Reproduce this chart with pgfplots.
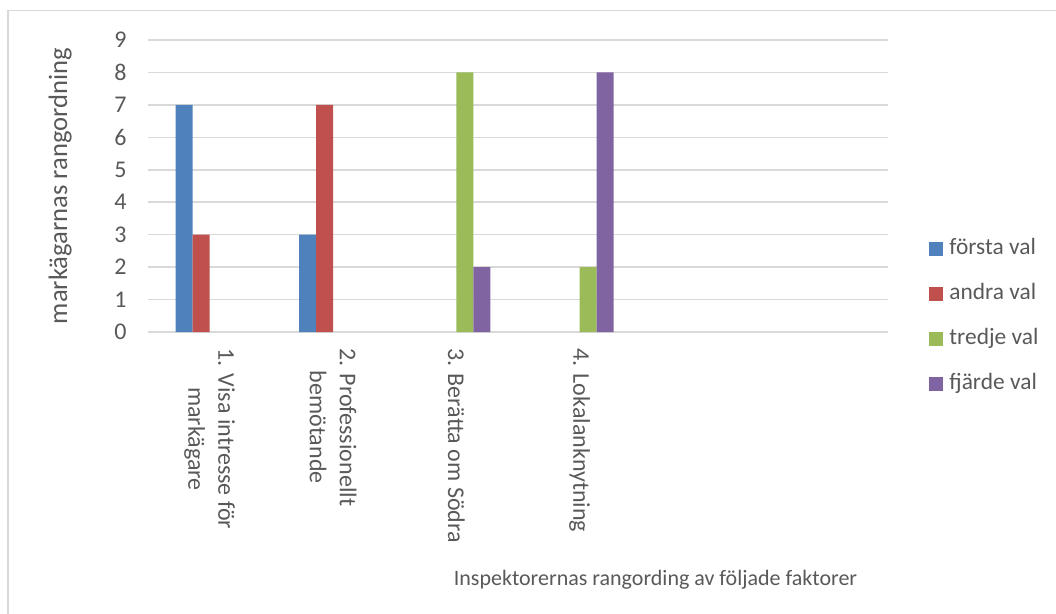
\documentclass[border=0pt]{standalone}
\usepackage{pgfplots}
\pgfplotsset{compat=1.18}
\usepackage{fontspec}
\setmainfont{Carlito}

\definecolor{txt}{HTML}{595959}
\definecolor{gridc}{HTML}{D9D9D9}
\definecolor{c1}{HTML}{4F81BD}
\definecolor{c2}{HTML}{C0504D}
\definecolor{c3}{HTML}{9BBB59}
\definecolor{c4}{HTML}{8064A2}

\begin{document}
\begin{tikzpicture}
% outer chart frame (only top and left edges fall on the page)
\draw[gridc, line width=0.75bp] (4bp,-320bp) -- (4bp,-5.25bp) -- (540bp,-5.25bp);

\begin{axis}[
  at={(74bp,-166bp)}, anchor=south west,
  scale only axis, width=370bp, height=146bp,
  ybar=0pt, bar width=8.5bp,
  xmin=-0.5, xmax=5.5, ymin=0, ymax=9,
  ytick={0,...,9}, xtick={0,1,2,3},
  xticklabels={{1. Visa intresse för\\markägare},{2. Professionellt\\bemötande},{3. Berätta om Södra},{4. Lokalanknytning}},
  axis lines*=left,
  x axis line style={gridc, line width=0.75bp},
  y axis line style={draw=none},
  major tick length=0pt,
  ymajorgrids, grid style={gridc, line width=0.75bp},
  /pgf/number format/assume math mode=true,
  tick label style={font=\fontsize{12bp}{15bp}\selectfont, text=txt},
  yticklabel style={anchor=east, inner sep=0pt},
  yticklabel shift=10.5bp,
  xticklabel style={inner sep=0pt, rotate=-90, anchor=west, align=center},
  xticklabel shift=8bp,
  legend style={draw=none, fill=none, at={(1.0554,0.3220)}, anchor=north west,
    inner sep=0pt, row sep=12bp, column sep=3bp,
    font=\fontsize{11.7bp}{14bp}\selectfont, text=txt,
    nodes={inner sep=0pt, text height=8bp, text depth=2.5bp}},
  legend cell align=left,
  legend image code/.code={\fill[#1, draw=none] (0bp,-3.5bp) rectangle (7bp,3.5bp);},
]
% zero rankings are left out, as they draw no bar
\addplot[fill=c1, draw=none] coordinates {(0,7) (1,3)};
\addplot[fill=c2, draw=none] coordinates {(0,3) (1,7)};
\addplot[fill=c3, draw=none] coordinates {(2,8) (3,2)};
\addplot[fill=c4, draw=none] coordinates {(2,2) (3,8)};
\legend{första val, andra val, tredje val, fjärde val}
\end{axis}

\node[rotate=90, anchor=base, font=\fontsize{13.3bp}{16bp}\selectfont, text=txt]
  at (33.5bp,-93bp) {markägarnas rangordning};
\node[anchor=base, font=\fontsize{11bp}{13bp}\selectfont, text=txt]
  at (327.75bp,-292.5bp) {Inspektorernas rangording av följade faktorer};

\pgfresetboundingbox
\useasboundingbox (0bp,0bp) rectangle (528bp,-307bp);
\end{tikzpicture}
\end{document}
